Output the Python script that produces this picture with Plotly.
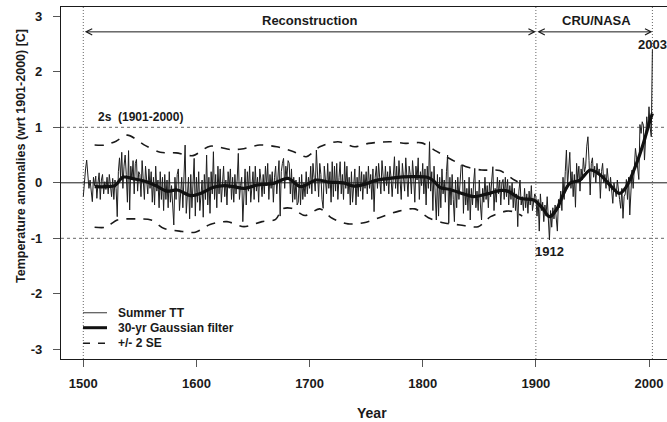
import plotly.graph_objects as go

# ---------------- data ----------------
years = list(range(1500, 2004))
summer_tt = [
    -0.25, 0.05, 0.25, 0.41, 0.10, -0.10, 0.05, -0.20, -0.34, 0.10,   # 1500
    -0.05, 0.12, -0.28, 0.00, 0.18, -0.30, 0.05, 0.15, -0.20, 0.02,   # 1510
    -0.12, 0.10, -0.20, 0.15, 0.00, -0.25, 0.08, -0.30, 0.05, -0.10,  # 1520
    -0.61, 0.20, 0.45, 0.10, 0.55, -0.10, 0.30, 0.50, 0.15, -0.35,    # 1530
    0.58, -0.49, 0.30, 0.05, 0.40, -0.20, 0.35, 0.42, -0.15, 0.20,    # 1540
    0.15, -0.25, 0.40, 0.00, -0.30, 0.30, 0.10, -0.20, 0.25, -0.10,   # 1550
    0.20, -0.35, 0.10, -0.40, 0.30, -0.15, 0.05, -0.45, 0.20, -0.30,  # 1560
    0.10, -0.50, 0.15, -0.30, 0.05, -0.45, 0.20, -0.35, -0.05, -0.40, # 1570
    -0.76, 0.10, -0.30, 0.15, 0.25, -0.50, -0.10, 0.10, -0.45, 0.05,  # 1580
    0.68, -0.55, -0.20, 0.10, -0.65, 0.15, -0.45, -0.10, 0.44, -0.60, # 1590
    0.10, -0.35, 0.20, -0.50, -0.10, 0.05, -0.62, 0.15, -0.30, 0.50,  # 1600
    -0.40, 0.10, -0.55, 0.20, -0.20, 0.56, -0.30, 0.15, -0.45, 0.30,  # 1610
    -0.20, 0.25, -0.35, 0.10, 0.30, -0.25, 0.05, -0.40, 0.20, -0.10,  # 1620
    0.25, -0.30, 0.10, -0.35, 0.15, -0.20, 0.05, 0.53, -0.30, -0.05,  # 1630
    0.10, -0.70, -0.20, 0.25, -0.40, 0.20, -0.15, 0.30, -0.35, 0.00,  # 1640
    0.20, -0.30, 0.30, -0.15, 0.10, -0.35, 0.25, 0.05, -0.25, 0.15,   # 1650
    -0.20, 0.30, -0.05, 0.35, -0.30, 0.15, -0.10, 0.20, -0.35, 0.10,  # 1660
    0.30, -0.20, 0.15, 0.40, -0.60, 0.20, 0.35, 0.44, -0.10, 0.30,    # 1670
    0.10, 0.40, 0.35, -0.20, 0.25, -0.35, 0.10, -0.30, 0.05, -0.40,   # 1680
    -0.35, 0.10, -0.40, 0.15, -0.30, 0.00, -0.25, 0.20, -0.20, 0.10,  # 1690
    -0.10, 0.30, -0.20, 0.35, 0.10, -0.15, 0.59, 0.20, -0.25, 0.35,   # 1700
    0.15, -0.30, -0.46, 0.30, 0.10, -0.20, 0.35, -0.10, 0.20, -0.35,  # 1710
    0.38, -0.25, 0.30, -0.15, 0.35, -0.30, 0.10, 0.38, -0.20, 0.15,   # 1720
    -0.30, 0.38, -0.10, 0.30, -0.20, 0.10, -0.40, 0.20, -0.35, 0.05,  # 1730
    0.25, -0.40, 0.10, -0.25, 0.30, -0.15, 0.20, -0.30, 0.15, -0.10,  # 1740
    0.20, -0.20, 0.30, -0.10, 0.15, -0.30, 0.25, -0.52, 0.10, 0.30,   # 1750
    -0.10, 0.35, 0.05, -0.20, 0.40, 0.10, -0.15, 0.30, -0.05, 0.20,   # 1760
    -0.20, 0.30, 0.10, -0.25, 0.25, 0.47, -0.10, 0.30, -0.20, 0.40,   # 1770
    0.05, -0.30, 0.35, 0.10, -0.15, 0.45, 0.00, -0.25, 0.30, 0.15,    # 1780
    -0.20, 0.40, 0.10, -0.35, 0.30, 0.05, 0.45, -0.30, 0.20, -0.05,   # 1790
    0.35, -0.20, 0.25, -0.40, 0.30, -0.10, 0.74, -0.15, 0.20, -0.50,  # 1800
    0.30, -0.30, -0.67, 0.15, -0.60, 0.10, -0.45, 0.25, -0.20, 0.05,  # 1810
    -0.35, 0.20, 0.50, -0.73, 0.10, -0.40, 0.15, -0.30, -0.70, 0.05,  # 1820
    -0.45, 0.10, -0.30, 0.00, 0.32, 0.32, -0.55, 0.05, -0.40, -0.10,  # 1830
    -0.50, 0.10, -0.67, -0.10, -0.40, 0.00, 0.26, -0.45, -0.15, -0.50, # 1840
    0.05, -0.40, -0.67, -0.10, -0.35, 0.10, -0.30, -0.05, -0.45, 0.00, # 1850
    -0.25, 0.05, 0.29, -0.50, -0.10, -0.35, 0.10, -0.20, 0.05, -0.40, # 1860
    0.00, 0.06, -0.30, 0.10, -0.25, 0.06, -0.40, -0.05, -0.30, 0.00,  # 1870
    -0.45, -0.10, -0.50, -0.20, -0.79, -0.15, 0.05, -0.40, -0.25, -0.50, # 1880
    -0.10, -0.45, -0.20, -0.55, -0.15, -0.40, -0.05, -0.50, -0.30, -0.20, # 1890
    -0.25, -0.60, -0.30, -0.87, -0.20, -0.50, -0.35, -0.70, -0.40, -0.60, # 1900
    -0.25, -0.70, -1.03, -0.50, -0.80, -0.45, -0.65, -0.40, -0.60, -0.87, # 1910
    -0.30, -0.45, -0.15, -0.50, 0.10, -0.30, 0.20, 0.59, -0.05, 0.30, # 1920
    0.55, -0.10, 0.20, -0.25, 0.15, -0.44, 0.35, 0.05, 0.30, -0.15,   # 1930
    0.25, 0.05, 0.45, 0.20, 0.30, 0.66, 0.83, 0.40, -0.22, 0.35,      # 1940
    0.45, 0.10, 0.30, 0.00, 0.35, 0.15, 0.25, -0.28, 0.20, 0.35,      # 1950
    0.00, 0.15, -0.10, 0.26, 0.05, -0.15, 0.10, -0.20, -0.37, 0.00,   # 1960
    -0.10, -0.25, 0.05, -0.20, -0.30, -0.46, -0.10, -0.64, -0.25, -0.20, # 1970
    0.06, -0.30, 0.10, -0.58, -0.15, 0.23, -0.10, 0.30, 0.62, 0.45,   # 1980
    0.30, 0.06, 1.05, 0.89, 1.10, 1.04, 0.41, 0.75, 1.19, 0.95,       # 1990
    1.37, 1.00, 0.83, 2.40,                                           # 2000
]

filter_years = [1510, 1520, 1528, 1535, 1545, 1556, 1565, 1574, 1583, 1595,
                1605, 1615, 1625, 1633, 1642, 1654, 1668, 1681, 1692, 1706,
                1718, 1730, 1739, 1748, 1758, 1774, 1790, 1804, 1810, 1815,
                1824, 1836, 1845, 1857, 1868, 1875, 1886, 1898, 1906, 1912,
                1918, 1924, 1930, 1939, 1948, 1957, 1965, 1974, 1980, 1989,
                1995, 2001, 2003]
filter_vals = [-0.07, -0.07, -0.05, 0.10, 0.07, 0.02, -0.06, -0.15, -0.13, -0.23,
               -0.18, -0.08, -0.05, -0.07, -0.10, -0.04, -0.01, 0.08, -0.07, 0.05,
               0.01, 0.00, -0.06, -0.03, 0.04, 0.09, 0.11, 0.10, 0.03, -0.08,
               -0.12, -0.20, -0.25, -0.20, -0.14, -0.15, -0.28, -0.31, -0.46, -0.61,
               -0.49, -0.22, -0.01, 0.05, 0.23, 0.14, -0.03, -0.19, -0.07, 0.35,
               0.71, 1.13, 1.25]

se_up_years = [1510, 1519, 1529, 1539, 1555, 1568, 1582, 1597, 1612, 1630,
               1640, 1656, 1671, 1686, 1697, 1709, 1725, 1740, 1752, 1771,
               1785, 1799, 1812, 1826, 1840, 1852, 1868, 1881, 1886]
se_up_vals = [0.68, 0.68, 0.75, 0.86, 0.67, 0.55, 0.54, 0.49, 0.66, 0.60,
              0.61, 0.68, 0.65, 0.56, 0.47, 0.65, 0.74, 0.65, 0.71, 0.74,
              0.71, 0.72, 0.57, 0.41, 0.28, 0.23, 0.22, 0.05, 0.00]

se_lo_years = [1510, 1520, 1530, 1546, 1560, 1571, 1585, 1599, 1612, 1627,
               1642, 1658, 1670, 1676, 1684, 1696, 1709, 1720, 1734, 1748,
               1764, 1779, 1793, 1805, 1818, 1833, 1849, 1860, 1874, 1880, 1888]
se_lo_vals = [-0.80, -0.80, -0.67, -0.65, -0.67, -0.82, -0.87, -0.89, -0.75, -0.70,
              -0.79, -0.70, -0.66, -0.47, -0.46, -0.59, -0.47, -0.64, -0.74, -0.72,
              -0.61, -0.51, -0.47, -0.63, -0.72, -0.76, -0.79, -0.61, -0.51, -0.52, -0.60]

x_tick_vals = [1500, 1600, 1700, 1800, 1900, 2000]
x_tick_text = ["1500", "1600", "1700", "1800", "1900", "2000"]
y_tick_vals = [-3, -2, -1, 0, 1, 2, 3]
y_tick_text = ["-3", "-2", "-1", "0", "1", "2", "3"]

period_bounds = [1500, 1900, 2003]
period_labels = ["Reconstruction", "CRU/NASA"]
period_label_x = [1700, 1954]

# ---------------- figure ----------------
FONT = "Liberation Sans, Arial, Helvetica, sans-serif"
INK = "#1a1a1a"

fig = go.Figure()

fig.add_trace(go.Scatter(x=years, y=summer_tt, mode="lines",
                         line=dict(color="#1e1e1e", width=1), showlegend=False,
                         hoverinfo="skip"))
fig.add_trace(go.Scatter(x=se_up_years, y=se_up_vals, mode="lines",
                         line=dict(color=INK, width=1.6, dash="9px,8px", shape="spline", smoothing=0.8),
                         showlegend=False, hoverinfo="skip"))
fig.add_trace(go.Scatter(x=se_lo_years, y=se_lo_vals, mode="lines",
                         line=dict(color=INK, width=1.6, dash="9px,8px", shape="spline", smoothing=0.8),
                         showlegend=False, hoverinfo="skip"))
fig.add_trace(go.Scatter(x=filter_years, y=filter_vals, mode="lines",
                         line=dict(color="#111111", width=3.2, shape="spline", smoothing=0.9),
                         showlegend=False, hoverinfo="skip"))

# reference lines
fig.add_hline(y=0, line=dict(color=INK, width=1), layer="below")
for yv in (1, -1):
    fig.add_hline(y=yv, line=dict(color="#666666", width=1, dash="3px,3px"), layer="below")
for xv in period_bounds:
    fig.add_vline(x=xv, line=dict(color="#666666", width=1, dash="1px,2px"), layer="below")

# period arrows
arrow_y = 2.72
for a, b in zip(period_bounds[:-1], period_bounds[1:]):
    fig.add_annotation(x=b, y=arrow_y, ax=a, ay=arrow_y, axref="x", ayref="y",
                       xref="x", yref="y", text="", showarrow=True,
                       arrowside="end+start", arrowhead=5, startarrowhead=5,
                       arrowsize=1.2, startarrowsize=1.2, arrowwidth=1, arrowcolor=INK)
for lab, xl in zip(period_labels, period_label_x):
    fig.add_annotation(x=xl, y=2.92, xref="x", yref="y", text=lab, showarrow=False,
                       xanchor="center", yanchor="middle",
                       font=dict(family=FONT, size=13, color=INK, weight="bold"))

fig.add_annotation(x=2003, y=2.49, xref="x", yref="y", text="2003", showarrow=False,
                   xanchor="center", yanchor="middle",
                   font=dict(family=FONT, size=13, color=INK, weight="bold"))
fig.add_annotation(x=1912, y=-1.23, xref="x", yref="y", text="1912", showarrow=False,
                   xanchor="center", yanchor="middle",
                   font=dict(family=FONT, size=13, color=INK, weight="bold"))
fig.add_annotation(x=1511, y=1.18, xref="x", yref="y", text="2s  (1901-2000)", showarrow=False,
                   xanchor="left", yanchor="middle",
                   font=dict(family=FONT, size=12, color=INK, weight="bold"))

# legend (manual, R-style)
legend_labels = ["Summer TT", "30-yr Gaussian filter", "+/- 2 SE"]
legend_styles = [dict(color="#555555", width=1.2),
                 dict(color="#111111", width=3),
                 dict(color=INK, width=1.5, dash="7px,8px")]
legend_y = [0.1315, 0.0889, 0.0446]
lx0, lx1, ltx = (83 - 61) / 606, (107 - 61) / 606, (116 - 61) / 606
for lab, sty, yy in zip(legend_labels, legend_styles, legend_y):
    fig.add_shape(type="line", xref="paper", yref="paper", x0=lx0, x1=lx1, y0=yy, y1=yy,
                  line=sty)
    fig.add_annotation(x=ltx, y=yy, xref="paper", yref="paper", text=lab, showarrow=False,
                       xanchor="left", yanchor="middle",
                       font=dict(family=FONT, size=12, color=INK, weight="bold"))

# axis titles
fig.add_annotation(x=(372 - 61) / 606, y=-0.1526, xref="paper", yref="paper", text="Year",
                   showarrow=False, xanchor="center", yanchor="middle",
                   font=dict(family=FONT, size=14, color=INK, weight="bold"))
fig.add_annotation(x=(21 - 61) / 606, y=(359 - 156) / 352, xref="paper", yref="paper",
                   text="Temperature anomalies (wrt 1901-2000) [C]", textangle=-90,
                   showarrow=False, xanchor="center", yanchor="middle",
                   font=dict(family=FONT, size=12.5, color=INK, weight="bold"))

fig.update_layout(
    width=667, height=422,
    margin=dict(l=61, r=0, t=7, b=63),
    paper_bgcolor="white", plot_bgcolor="white",
    font=dict(family=FONT, size=13, color=INK, weight="bold"),
    showlegend=False,
)
fig.update_xaxes(range=[1480.3, 2015.9], tickvals=x_tick_vals, ticktext=x_tick_text,
                 showgrid=False, zeroline=False, showline=True, linecolor=INK, linewidth=1.2,
                 mirror=True, ticks="outside", ticklen=7, tickcolor="#555555", tickwidth=1,
                 ticklabelstandoff=5, tickfont=dict(size=13, weight="bold"))
fig.update_yaxes(range=[-3.175, 3.168], tickvals=y_tick_vals, ticktext=y_tick_text,
                 showgrid=False, zeroline=False, showline=True, linecolor=INK, linewidth=1.2,
                 mirror=False, ticks="outside", ticklen=7, tickcolor="#555555", tickwidth=1,
                 ticklabelstandoff=8, tickfont=dict(size=13, weight="bold"))

fig.write_html("out.html", config={"displayModeBar": False},
               post_script="document.body.style.margin='0';document.body.style.padding='0';"
                           "document.documentElement.style.overflow='hidden';")
